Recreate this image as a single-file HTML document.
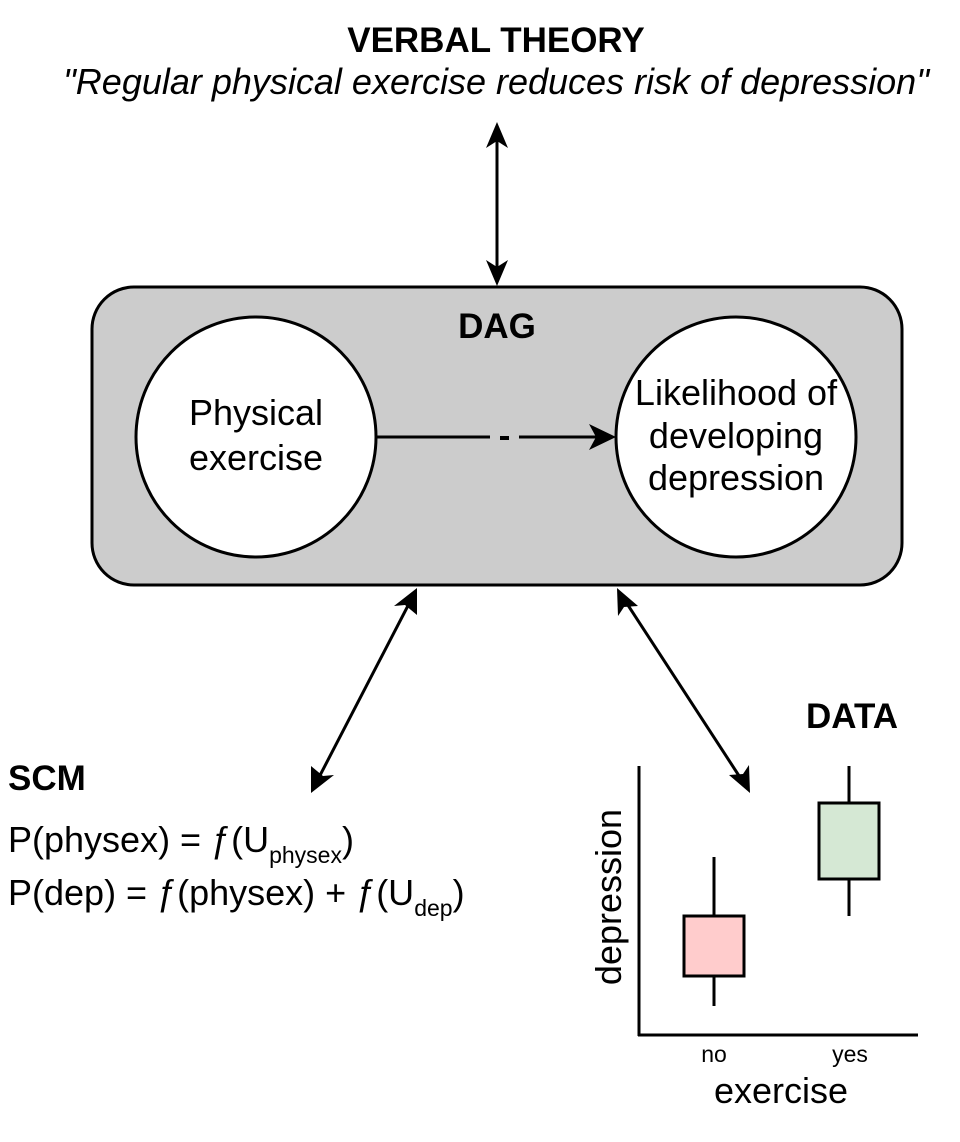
<!DOCTYPE html>
<html><head><meta charset="utf-8"><style>body{margin:0;background:#fff}</style></head><body>
<svg width="960" height="1137" xmlns="http://www.w3.org/2000/svg" font-family="Liberation Sans, Arial, sans-serif">
<rect width="960" height="1137" fill="#fff"/>
<text x="496" y="52" font-size="35" font-weight="bold" text-anchor="middle">VERBAL THEORY</text>
<text x="496" y="94" font-size="36" font-style="italic" text-anchor="middle">"Regular physical exercise reduces risk of depression"</text>
<line x1="497" y1="130" x2="497" y2="278" stroke="#000" stroke-width="3"/>
<polygon points="497,122 486,148 497,141 508,148" fill="#000"/>
<polygon points="497,286 486,260 497,267 508,260" fill="#000"/>
<rect x="92" y="287" width="810" height="298" rx="42" fill="#ccc" stroke="#000" stroke-width="3"/>
<text x="497" y="338" font-size="35" font-weight="bold" text-anchor="middle">DAG</text>
<circle cx="256" cy="437" r="120" fill="#fff" stroke="#000" stroke-width="3"/>
<circle cx="736" cy="437" r="120" fill="#fff" stroke="#000" stroke-width="3"/>
<text x="256" y="425" font-size="36" text-anchor="middle">Physical</text>
<text x="256" y="470" font-size="36" text-anchor="middle">exercise</text>
<text x="736" y="405" font-size="36" text-anchor="middle">Likelihood of</text>
<text x="736" y="448" font-size="36" text-anchor="middle">developing</text>
<text x="736" y="490" font-size="36" text-anchor="middle">depression</text>
<line x1="376" y1="437" x2="490" y2="437" stroke="#000" stroke-width="3"/>
<line x1="519" y1="437" x2="600" y2="437" stroke="#000" stroke-width="3"/>
<rect x="500" y="436" width="9" height="4" fill="#000"/>
<polygon points="616,437 589,424 596,437 589,450" fill="#000"/>
<line x1="413" y1="596" x2="315" y2="785" stroke="#000" stroke-width="3"/>
<polygon points="417,588 394,606 405,605 417,615" fill="#000"/>
<polygon points="311,793 334,775 323,776 311,766" fill="#000"/>
<line x1="622" y1="596" x2="745" y2="785" stroke="#000" stroke-width="3"/>
<polygon points="617,588 618,616 624,607 638,606" fill="#000"/>
<polygon points="750,793 749,765 743,774 729,775" fill="#000"/>
<text x="8" y="790" font-size="35" font-weight="bold">SCM</text>
<text x="8" y="852" font-size="36">P(physex) = ƒ(U<tspan font-size="23" dy="11">physex</tspan><tspan dy="-11">)</tspan></text>
<text x="8" y="905" font-size="36">P(dep) = ƒ(physex) + ƒ(U<tspan font-size="23" dy="11">dep</tspan><tspan dy="-11">)</tspan></text>
<text x="852" y="728" font-size="35" font-weight="bold" text-anchor="middle">DATA</text>
<line x1="639" y1="766" x2="639" y2="1036" stroke="#000" stroke-width="3"/>
<line x1="638" y1="1035" x2="918" y2="1035" stroke="#000" stroke-width="3"/>
<line x1="714" y1="857" x2="714" y2="1006" stroke="#000" stroke-width="3"/>
<rect x="684" y="916" width="60" height="60" fill="#ffcccc" stroke="#000" stroke-width="3"/>
<line x1="849" y1="766" x2="849" y2="916" stroke="#000" stroke-width="3"/>
<rect x="819" y="803" width="60" height="76" fill="#d5e8d4" stroke="#000" stroke-width="3"/>
<text x="714" y="1062" font-size="23" text-anchor="middle">no</text>
<text x="850" y="1062" font-size="23" text-anchor="middle">yes</text>
<text x="781" y="1103" font-size="36" text-anchor="middle">exercise</text>
<text transform="translate(621,897) rotate(-90)" font-size="36" text-anchor="middle">depression</text>
</svg>
</body></html>
